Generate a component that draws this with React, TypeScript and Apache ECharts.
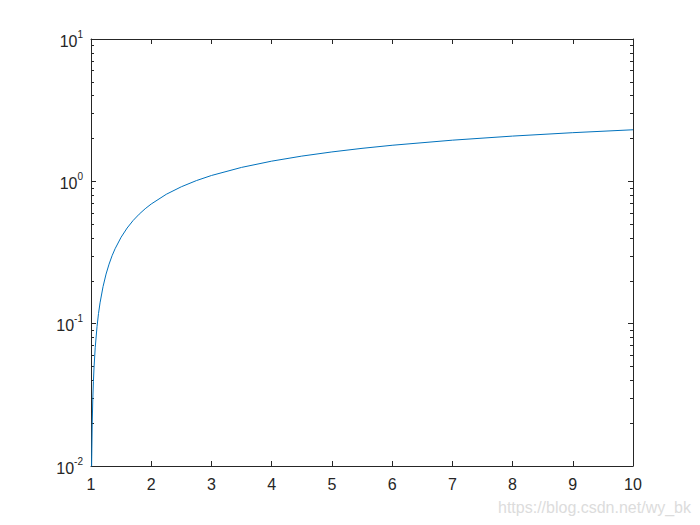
import React, { useEffect, useRef } from "react";
import * as echarts from "echarts";

// Points (x, y) — y on a log scale
const xValues = [1.01, 1.02, 1.03, 1.04, 1.05, 1.07, 1.1, 1.125, 1.15, 1.2, 1.25, 1.3, 1.35, 1.4, 1.5, 1.6, 1.7, 1.8, 1.9, 2, 2.25, 2.5, 2.75, 3, 3.5, 4, 4.5, 5, 5.5, 6, 7, 8, 9, 10];
const yValues = [0.0099, 0.0198, 0.0296, 0.0392, 0.0488, 0.0677, 0.0953, 0.118, 0.14, 0.182, 0.223, 0.262, 0.3, 0.336, 0.405, 0.47, 0.531, 0.588, 0.642, 0.693, 0.811, 0.916, 1.012, 1.099, 1.253, 1.386, 1.504, 1.609, 1.705, 1.792, 1.946, 2.079, 2.197, 2.303];

const xTicks = [1, 2, 3, 4, 5, 6, 7, 8, 9, 10];
const yMajorTicks = [0.01, 0.1, 1, 10];
const yMinorTicks = [0.02, 0.03, 0.04, 0.05, 0.06, 0.07, 0.08, 0.09, 0.2, 0.3, 0.4, 0.5, 0.6, 0.7, 0.8, 0.9, 2, 3, 4, 5, 6, 7, 8, 9];

const watermark = "https://blog.csdn.net/wy_bk";

export default function App() {
  const ref = useRef<HTMLDivElement>(null);
  useEffect(() => {
    const chart = echarts.init(ref.current!, null, { renderer: "svg" });
    const axisColor = "#262626";
    const font = "Liberation Sans";
    const lineStyle = { color: axisColor, width: 1 };
    const xMin = xTicks[0];
    const xMax = xTicks[xTicks.length - 1];
    const yMin = yMajorTicks[0];
    const yMax = yMajorTicks[yMajorTicks.length - 1];
    const logMin = Math.log10(yMin);
    const logMax = Math.log10(yMax);

    const xAxisCommon = {
      type: "value",
      min: xMin,
      max: xMax,
      interval: 1,
      axisLine: { show: true, onZero: false, lineStyle },
      axisTick: { show: true, inside: true, length: 5, lineStyle },
      splitLine: { show: false },
    };
    const yLogCommon = {
      type: "log",
      logBase: 10,
      min: yMin,
      max: yMax,
      axisLine: { show: true, onZero: false, lineStyle },
      axisTick: { show: true, inside: true, length: 5, lineStyle },
      splitLine: { show: false },
      minorTick: { show: false },
    };
    const yMinorCommon = {
      type: "value",
      min: logMin,
      max: logMax,
      axisLine: { show: false },
      axisTick: {
        show: true,
        inside: true,
        length: 3,
        lineStyle,
        customValues: yMinorTicks.map((v) => Math.log10(v)),
      },
      axisLabel: { show: false },
      splitLine: { show: false },
    };

    chart.setOption({
      animation: false,
      backgroundColor: "#ffffff",
      grid: { left: 91, right: 67, top: 39, bottom: 59, show: false },
      xAxis: [
        {
          ...xAxisCommon,
          position: "bottom",
          axisLabel: { color: axisColor, fontSize: 16, fontFamily: font, margin: 10 },
        },
        { ...xAxisCommon, position: "top", axisLabel: { show: false } },
      ],
      yAxis: [
        {
          ...yLogCommon,
          position: "left",
          axisLabel: {
            color: axisColor,
            fontFamily: font,
            margin: 8,
            padding: [4, 0, 0, 0],
            formatter: (v: number) => `{b|10}{sup|${Math.round(Math.log10(v))}}`,
            rich: {
              b: { fontSize: 16, fontFamily: font, color: axisColor, lineHeight: 16, verticalAlign: "bottom" },
              sup: { fontSize: 10, fontFamily: font, color: axisColor, lineHeight: 10, verticalAlign: "bottom", padding: [0, 0, 10, 0] },
            },
          },
        },
        { ...yLogCommon, position: "right", axisLabel: { show: false } },
        { ...yMinorCommon, position: "left" },
        { ...yMinorCommon, position: "right" },
      ],
      series: [
        {
          type: "line",
          xAxisIndex: 0,
          yAxisIndex: 0,
          data: xValues.map((x, i) => [x, yValues[i]]),
          showSymbol: false,
          symbol: "none",
          smooth: false,
          clip: true,
          lineStyle: { color: "#0072BD", width: 1 },
        },
      ],
      graphic: [
        {
          type: "text",
          right: 9,
          bottom: 10,
          style: { text: watermark, fill: "#dcdcdc", font: `16px ${font}` },
        },
      ],
    });
    return () => chart.dispose();
  }, []);
  return (
    <div
      ref={ref}
      style={{ position: "fixed", left: 0, top: 0, width: 700, height: 525 }}
    />
  );
}
